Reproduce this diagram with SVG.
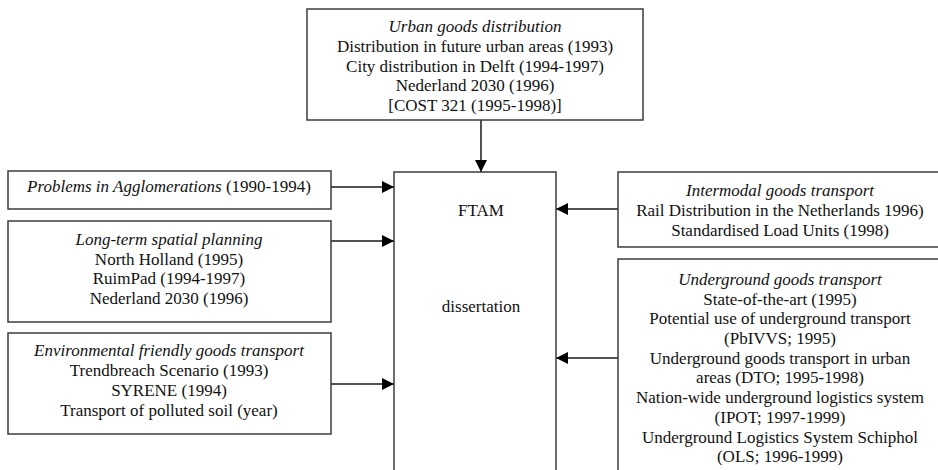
<svg xmlns="http://www.w3.org/2000/svg" width="938" height="470" viewBox="0 0 938 470">
  <style>
    .box { fill: #ffffff; stroke: #3c3c3c; stroke-width: 1.5; }
    .txt { font-family: "Liberation Serif", "Times New Roman", serif; font-size: 17px; fill: #111111; text-anchor: middle; }
    .it { font-style: italic; }
    .conn { stroke: #1a1a1a; stroke-width: 1.5; fill: none; marker-end: url(#head); }
  </style>
  <defs>
    <marker id="head" markerUnits="userSpaceOnUse" markerWidth="13" markerHeight="13" refX="12" refY="6" orient="auto">
      <path d="M0,0 L12,6 L0,12 Z" fill="#000000"/>
    </marker>
  </defs>
  <rect width="938" height="470" fill="#ffffff"/>

  <!-- connectors into the central FTAM block -->
  <g id="connectors">
    <line class="conn" x1="481" y1="120" x2="481" y2="172"/>
    <line class="conn" x1="331" y1="187" x2="394" y2="187"/>
    <line class="conn" x1="331" y1="241" x2="394" y2="241"/>
    <line class="conn" x1="331" y1="384" x2="394" y2="384"/>
    <line class="conn" x1="618" y1="209" x2="556" y2="209"/>
    <line class="conn" x1="618" y1="358" x2="556" y2="358"/>
  </g>

  <g id="urban">
    <rect class="box" x="307" y="9" width="336" height="111"/>
    <text class="txt it" x="475" y="32">Urban goods distribution</text>
    <text class="txt" x="475" y="52">Distribution in future urban areas (1993)</text>
    <text class="txt" x="475" y="72">City distribution in Delft (1994-1997)</text>
    <text class="txt" x="475" y="91">Nederland 2030 (1996)</text>
    <text class="txt" x="475" y="111">[COST 321 (1995-1998)]</text>
  </g>

  <g id="ftam">
    <rect class="box" x="394" y="172" width="162" height="320"/>
    <text class="txt" x="481" y="216">FTAM</text>
    <text class="txt" x="481" y="312">dissertation</text>
  </g>

  <g id="agglomerations">
    <rect class="box" x="8" y="171" width="323" height="38"/>
    <text class="txt" x="169" y="192"><tspan class="it">Problems in Agglomerations</tspan> (1990-1994)</text>
  </g>

  <g id="spatial">
    <rect class="box" x="8" y="221" width="323" height="101"/>
    <text class="txt it" x="169" y="245">Long-term spatial planning</text>
    <text class="txt" x="169" y="265">North Holland (1995)</text>
    <text class="txt" x="169" y="284">RuimPad (1994-1997)</text>
    <text class="txt" x="169" y="304">Nederland 2030 (1996)</text>
  </g>

  <g id="environmental">
    <rect class="box" x="8" y="333" width="323" height="101"/>
    <text class="txt it" x="169" y="356">Environmental friendly goods transport</text>
    <text class="txt" x="169" y="376">Trendbreach Scenario (1993)</text>
    <text class="txt" x="169" y="396">SYRENE (1994)</text>
    <text class="txt" x="169" y="416">Transport of polluted soil (year)</text>
  </g>

  <g id="intermodal">
    <rect class="box" x="618" y="172" width="326" height="75"/>
    <text class="txt it" x="780" y="196">Intermodal goods transport</text>
    <text class="txt" x="780" y="216">Rail Distribution in the Netherlands 1996)</text>
    <text class="txt" x="780" y="236">Standardised Load Units (1998)</text>
  </g>

  <g id="underground">
    <rect class="box" x="618" y="259" width="326" height="230"/>
    <text class="txt it" x="780" y="285">Underground goods transport</text>
    <text class="txt" x="780" y="305">State-of-the-art (1995)</text>
    <text class="txt" x="780" y="324">Potential use of underground transport</text>
    <text class="txt" x="780" y="344">(PbIVVS; 1995)</text>
    <text class="txt" x="780" y="364">Underground goods transport in urban</text>
    <text class="txt" x="780" y="383">areas (DTO; 1995-1998)</text>
    <text class="txt" x="780" y="403">Nation-wide underground logistics system</text>
    <text class="txt" x="780" y="423">(IPOT; 1997-1999)</text>
    <text class="txt" x="780" y="443">Underground Logistics System Schiphol</text>
    <text class="txt" x="780" y="462">(OLS; 1996-1999)</text>
  </g>
</svg>
